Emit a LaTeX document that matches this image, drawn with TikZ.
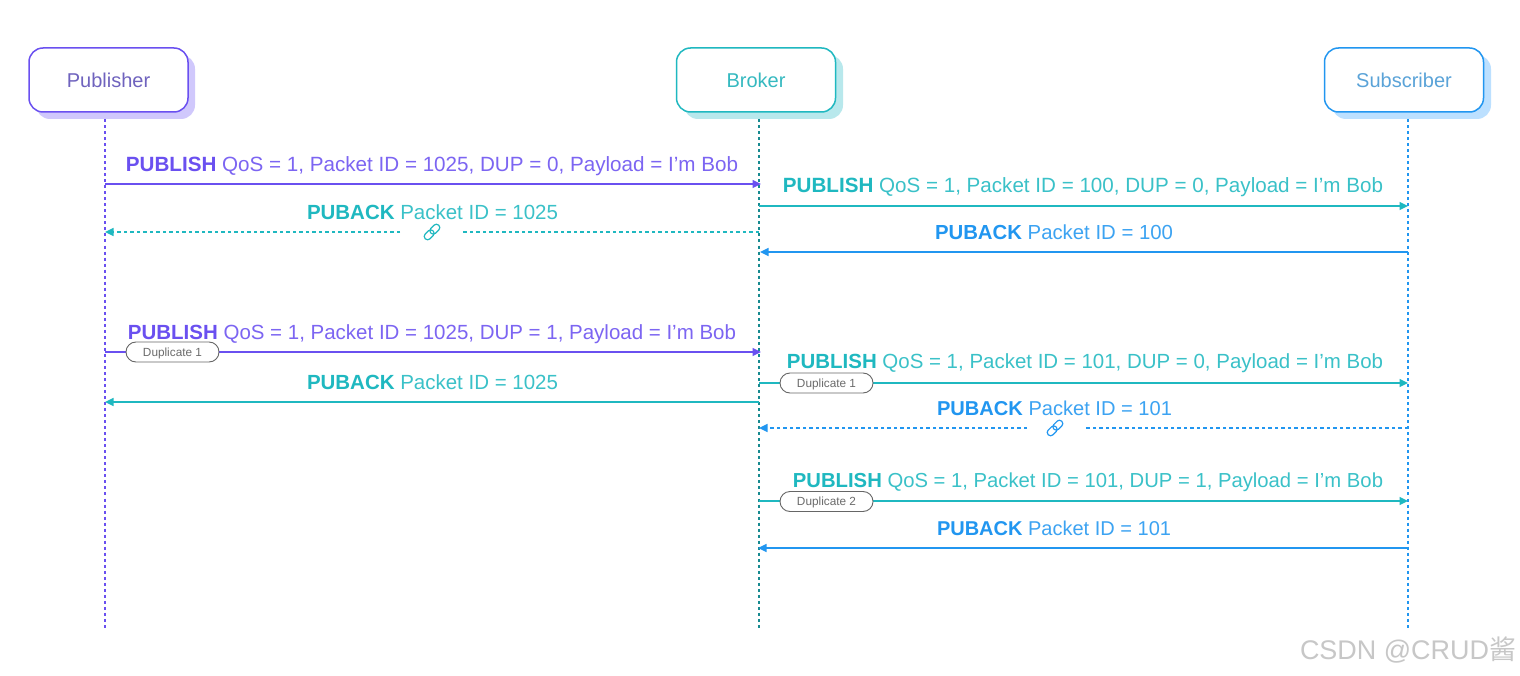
\documentclass[tikz,border=0pt]{standalone}
\usepackage{fontspec}
\setmainfont{Liberation Sans}
\newfontfamily\cjkwm{Noto Sans CJK SC}
\usetikzlibrary{arrows.meta}
\definecolor{pur}{HTML}{6A50F0}
\definecolor{purtxt}{HTML}{6F63BE}
\definecolor{purshadow}{HTML}{D0C8FC}
\definecolor{tea}{HTML}{1FB8C0}
\definecolor{teatxt}{HTML}{35B9C0}
\definecolor{teashadow}{HTML}{B8E8EC}
\definecolor{blu}{HTML}{2196F0}
\definecolor{blutxt}{HTML}{5AA3D8}
\definecolor{blushadow}{HTML}{BCE0FF}
\newcommand\fitw[2]{\resizebox{#1pt}{!}{#2}}
\newcommand\msgrun[3]{\textcolor{#1}{\textbf{#2}} \textcolor{#1!88}{#3}}
\tikzset{
  x=1pt,y=-1pt,
  actorbox/.style={draw=#1,line width=1.5pt,fill=white,rounded corners=14pt,minimum width=159pt,minimum height=64pt,inner sep=0pt,font=\fontsize{20}{24}\selectfont},
  actorshadow/.style={fill=#1,rounded corners=14pt,minimum width=159pt,minimum height=64pt,inner sep=0pt},
  lifeline/.style={draw=#1,line width=1.7pt,dash pattern=on 3pt off 3.024pt},
  msgline/.style={draw=#1,line width=1.5pt,-{Triangle[length=8.5pt,width=8pt]}},
  dashmsg/.style={draw=#1,line width=1.3pt,dash pattern=on 3.5pt off 3pt},
  dashtip/.style={draw=#1,line width=1.3pt,dash pattern=on 3.5pt off 3pt,-{Triangle[length=8.5pt,width=8pt,fill=#1]}},
  msgtext/.style={inner sep=0pt},
  pill/.style={draw=black!60,line width=0.9pt,fill=white,rounded corners=10pt,minimum width=93pt,minimum height=20pt,inner sep=0pt,text=black!58,font=\fontsize{11.8}{13}\selectfont,text height=8.5pt,text depth=0pt},
  gapnode/.style={minimum width=#1,minimum height=2pt,inner sep=0pt,outer sep=0pt},
  linkloop/.style={draw=#1,line width=1.2pt,rounded corners=3pt}
}
\newcommand\linkicon[3]{%
  \begin{scope}[shift={(#1,#2)},rotate=45]
    \draw[linkloop=#3] (-9.5,-3.3) rectangle (1.5,3.3);
    \draw[linkloop=#3] (-1.5,-3.3) rectangle (9.5,3.3);
  \end{scope}}
\begin{document}
\begin{tikzpicture}
\useasboundingbox (0,0) rectangle (1520,676);
\fill[white] (0,0) rectangle (1520,676);
% shadows
\node[actorshadow=purshadow] (ps) at (115.5,87) {};
\node[actorshadow=teashadow] (bs) at (763.5,87) {};
\node[actorshadow=blushadow] (ss) at (1411.5,87) {};
% actors
\node[actorbox=pur,text=purtxt] (pub) at (108.5,80) {Publisher};
\node[actorbox=tea,text=teatxt] (bro) at (756,80) {Broker};
\node[actorbox=blu,text=blutxt] (sub) at (1404,80) {Subscriber};
% lifeline ends
\coordinate (pt) at (105,119); \coordinate (pb) at (105,628);
\coordinate (bt) at (759,119); \coordinate (bb) at (759,628);
\coordinate (st) at (1408,119); \coordinate (sb) at (1408,628);
\draw[lifeline=pur] (pt) -- (pb);
\draw[lifeline=tea!75!black] (bt) -- (bb);
\draw[lifeline=blu] (st) -- (sb);
% 1
\coordinate (m1a) at (105,184); \coordinate (m1b) at (761,184);
\draw[msgline=pur] (m1a) -- (m1b);
\node[msgtext] (t1) at (432,166) {\fitw{612}{\msgrun{pur}{PUBLISH}{QoS = 1, Packet ID = 1025, DUP = 0, Payload = I’m Bob}}};
% 2
\coordinate (m2a) at (759,206); \coordinate (m2b) at (1408,206);
\draw[msgline=tea] (m2a) -- (m2b);
\node[msgtext] (t2) at (1083,187) {\fitw{600}{\msgrun{tea}{PUBLISH}{QoS = 1, Packet ID = 100, DUP = 0, Payload = I’m Bob}}};
% 3 dashed with gap
\coordinate (m3a) at (759,232); \coordinate (m3b) at (105,232);
\node[gapnode=62pt] (g3) at (431,232) {};
\draw[dashmsg=tea] (m3a) -- (g3);
\draw[dashtip=tea] (g3) -- (m3b);
\linkicon{432}{232}{tea}
\node[msgtext] (t3) at (432.5,212) {\fitw{251}{\msgrun{tea}{PUBACK}{Packet ID = 1025}}};
% 4
\coordinate (m4a) at (1408,252); \coordinate (m4b) at (760,252);
\draw[msgline=blu] (m4a) -- (m4b);
\node[msgtext] (t4) at (1054,232) {\fitw{238}{\msgrun{blu}{PUBACK}{Packet ID = 100}}};
% 5
\coordinate (m5a) at (105,352); \coordinate (m5b) at (761,352);
\draw[msgline=pur] (m5a) -- (m5b);
\node[pill] (d1) at (172.5,352) {Duplicate 1};
\node[msgtext] (t5) at (432,334) {\fitw{608}{\msgrun{pur}{PUBLISH}{QoS = 1, Packet ID = 1025, DUP = 1, Payload = I’m Bob}}};
% 6
\coordinate (m6a) at (759,383); \coordinate (m6b) at (1408,383);
\draw[msgline=tea] (m6a) -- (m6b);
\node[pill] (d2) at (826.5,383) {Duplicate 1};
\node[msgtext] (t6) at (1085,363.5) {\fitw{596}{\msgrun{tea}{PUBLISH}{QoS = 1, Packet ID = 101, DUP = 0, Payload = I’m Bob}}};
% 7
\coordinate (m7a) at (759,402); \coordinate (m7b) at (105,402);
\draw[msgline=tea] (m7a) -- (m7b);
\node[msgtext] (t7) at (432.5,382) {\fitw{251}{\msgrun{tea}{PUBACK}{Packet ID = 1025}}};
% 8 dashed with gap
\coordinate (m8a) at (1408,428); \coordinate (m8b) at (759,428);
\node[gapnode=56pt] (g8) at (1055,428) {};
\draw[dashmsg=blu] (m8a) -- (g8);
\draw[dashtip=blu] (g8) -- (m8b);
\linkicon{1055}{428}{blu}
\node[msgtext] (t8) at (1054.5,408) {\fitw{235}{\msgrun{blu}{PUBACK}{Packet ID = 101}}};
% 9
\coordinate (m9a) at (759,501); \coordinate (m9b) at (1408,501);
\draw[msgline=tea] (m9a) -- (m9b);
\node[pill] (d3) at (826.5,501.5) {Duplicate 2};
\node[msgtext] (t9) at (1088,482) {\fitw{590}{\msgrun{tea}{PUBLISH}{QoS = 1, Packet ID = 101, DUP = 1, Payload = I’m Bob}}};
% 10
\coordinate (m10a) at (1408,548); \coordinate (m10b) at (758,548);
\draw[msgline=blu] (m10a) -- (m10b);
\node[msgtext] (t10) at (1054,528) {\fitw{234}{\msgrun{blu}{PUBACK}{Packet ID = 101}}};
% watermark
\node[inner sep=0pt,text=black!22] (wm) at (1408,650) {\fitw{216}{CSDN @CRUD{\cjkwm 酱}}};
\end{tikzpicture}
\end{document}
